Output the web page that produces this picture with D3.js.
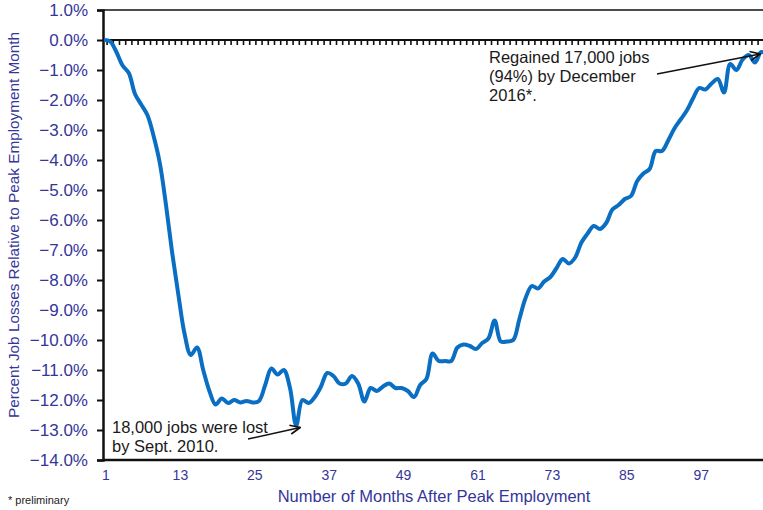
<!DOCTYPE html>
<html>
<head>
<meta charset="utf-8">
<script src="https://cdn.jsdelivr.net/npm/d3@7"></script>
<style>
  html, body { margin: 0; padding: 0; background: #fff; }
  svg { display: block; font-family: "Liberation Sans", Arial, sans-serif; }
</style>
</head>
<body>
<svg id="chart" width="763" height="510"></svg>
<script>
(function () {
    'use strict';

    // percent change in jobs relative to the peak month, one value per month (month 1 = peak)
    var jobLossPct = [
        0, -0.05, -0.4, -0.85, -1.1, -1.8, -2.15, -2.5, -3.2, -4.1,
        -5.5, -7.1, -8.5, -9.8, -10.5, -10.25, -11.0, -11.7, -12.15, -11.95,
        -12.1, -12.0, -12.08, -12.03, -12.08, -12.03, -11.5, -10.95, -11.15, -11.0,
        -11.6, -12.85, -12.0, -12.1, -11.9, -11.55, -11.1, -11.2, -11.45, -11.45,
        -11.2, -11.45, -12.05, -11.6, -11.7, -11.55, -11.45, -11.6, -11.6, -11.7,
        -11.9, -11.5, -11.3, -10.45, -10.7, -10.7, -10.7, -10.25, -10.15, -10.2,
        -10.3, -10.1, -9.95, -9.35, -10.05, -10.05, -10.0, -9.3, -8.6, -8.2,
        -8.28, -8.05, -7.9, -7.6, -7.3, -7.45, -7.25, -6.75, -6.45, -6.2,
        -6.3, -6.1, -5.65, -5.5, -5.3, -5.2, -4.7, -4.45, -4.3, -3.7,
        -3.7, -3.35, -2.95, -2.65, -2.35, -1.95, -1.6, -1.65, -1.45, -1.3,
        -1.75, -0.8, -1.0, -0.65, -0.5, -0.75, -0.4, -0.5
    ];

    var xTickMonths = [1, 13, 25, 37, 49, 61, 73, 85, 97];
    var yTickValues = [1, 0, -1, -2, -3, -4, -5, -6, -7, -8, -9, -10, -11, -12, -13, -14];

    var lossNote = ['18,000 jobs were lost', 'by Sept. 2010.'];
    var lossMonth = 32;
    var gainNote = ['Regained 17,000 jobs', '(94%) by December', '2016*.'];
    var gainMonth = 107;

    var textBlue = '#35359a';
    var lineBlue = '#0a6fc2';

    var svg = d3.select('#chart');
    var plot = { left: 103, top: 10, bottom: 460, right: 763 };

    var x = d3.scaleLinear()
        .domain([1, jobLossPct.length])
        .range([plot.left + 1, plot.left + 1 + (jobLossPct.length - 1) * 6.2]);

    var y = d3.scaleLinear()
        .domain([1, -14])
        .range([plot.top, plot.bottom]);

    // frame: top and bottom rule
    svg.append('line')
        .attr('x1', plot.left).attr('x2', plot.right)
        .attr('y1', plot.top).attr('y2', plot.top)
        .attr('stroke', '#111').attr('stroke-width', 1.5);
    svg.append('line')
        .attr('x1', plot.left).attr('x2', plot.right)
        .attr('y1', plot.bottom).attr('y2', plot.bottom)
        .attr('stroke', '#111').attr('stroke-width', 2.5);

    // zero line with month tick marks
    svg.append('line')
        .attr('x1', plot.left).attr('x2', plot.right)
        .attr('y1', y(0)).attr('y2', y(0))
        .attr('stroke', '#111').attr('stroke-width', 2);
    svg.append('g')
        .selectAll('line')
        .data(jobLossPct)
        .enter().append('line')
        .attr('x1', function (d, i) { return x(i + 1) + 3.1; })
        .attr('x2', function (d, i) { return x(i + 1) + 3.1; })
        .attr('y1', y(0))
        .attr('y2', y(0) + 5)
        .attr('stroke', '#111')
        .attr('stroke-width', 1.6);

    // y axis
    var yAxis = d3.axisLeft(y)
        .tickValues(yTickValues)
        .tickSize(6)
        .tickPadding(9)
        .tickFormat(function (d) { return d3.format('.1f')(d) + '%'; });

    var yg = svg.append('g')
        .attr('transform', 'translate(' + plot.left + ',0)')
        .call(yAxis);
    yg.select('.domain').attr('stroke', '#111').attr('stroke-width', 2.5);
    yg.selectAll('.tick line').attr('stroke', '#111').attr('stroke-width', 2);
    yg.selectAll('.tick text')
        .attr('fill', textBlue)
        .style('font-size', '17px')
        .style('font-family', '"Liberation Sans", Arial, sans-serif');

    // x axis labels (low position)
    var xAxis = d3.axisBottom(x)
        .tickValues(xTickMonths)
        .tickSize(0)
        .tickPadding(10)
        .tickFormat(d3.format('d'));

    var xg = svg.append('g')
        .attr('transform', 'translate(1.5,' + plot.bottom + ')')
        .call(xAxis);
    xg.select('.domain').remove();
    xg.selectAll('.tick text')
        .attr('fill', textBlue)
        .style('font-size', '14px')
        .style('font-family', '"Liberation Sans", Arial, sans-serif');

    // axis titles
    svg.append('text')
        .attr('x', 434)
        .attr('y', 502)
        .attr('text-anchor', 'middle')
        .attr('fill', textBlue)
        .style('font-size', '16.5px')
        .text('Number of Months After Peak Employment');

    svg.append('text')
        .attr('transform', 'translate(19,225) rotate(-90)')
        .attr('text-anchor', 'middle')
        .attr('fill', textBlue)
        .style('font-size', '15.3px')
        .text('Percent Job Losses Relative to Peak Employment Month');

    svg.append('text')
        .attr('x', 8)
        .attr('y', 504)
        .attr('fill', '#222')
        .style('font-size', '11px')
        .text('* preliminary');

    // the series
    var line = d3.line()
        .x(function (d, i) { return x(i + 1); })
        .y(function (d) { return y(d); })
        .curve(d3.curveCatmullRom.alpha(0.5));

    svg.append('path')
        .datum(jobLossPct)
        .attr('d', line)
        .attr('fill', 'none')
        .attr('stroke', lineBlue)
        .attr('stroke-width', 4)
        .attr('stroke-linejoin', 'round');

    // annotations
    var defs = svg.append('defs');
    defs.append('marker')
        .attr('id', 'arrow')
        .attr('viewBox', '0 0 10 10')
        .attr('refX', 9).attr('refY', 5)
        .attr('markerWidth', 8).attr('markerHeight', 8)
        .attr('orient', 'auto')
        .append('path')
        .attr('d', 'M0,1 L9,5 L0,9')
        .attr('fill', 'none')
        .attr('stroke', '#111')
        .attr('stroke-width', 1.5);

    function note(lines, tx, ty, lh) {
        var t = svg.append('text')
            .attr('fill', '#1a1a1a')
            .style('font-size', '16.5px');
        lines.forEach(function (s, i) {
            t.append('tspan').attr('x', tx).attr('y', ty + i * lh).text(s);
        });
    }

    note(lossNote, 112, 433, 19);
    svg.append('line')
        .attr('x1', 248).attr('y1', 439)
        .attr('x2', x(lossMonth) + 4).attr('y2', y(jobLossPct[lossMonth - 1]) + 2)
        .attr('stroke', '#111').attr('stroke-width', 1.4)
        .attr('marker-end', 'url(#arrow)');

    note(gainNote, 489, 63, 19);
    svg.append('line')
        .attr('x1', 657).attr('y1', 74)
        .attr('x2', x(gainMonth) - 1).attr('y2', y(jobLossPct[gainMonth - 1]) + 2)
        .attr('stroke', '#111').attr('stroke-width', 1.4)
        .attr('marker-end', 'url(#arrow)');
}());
</script>
</body>
</html>
